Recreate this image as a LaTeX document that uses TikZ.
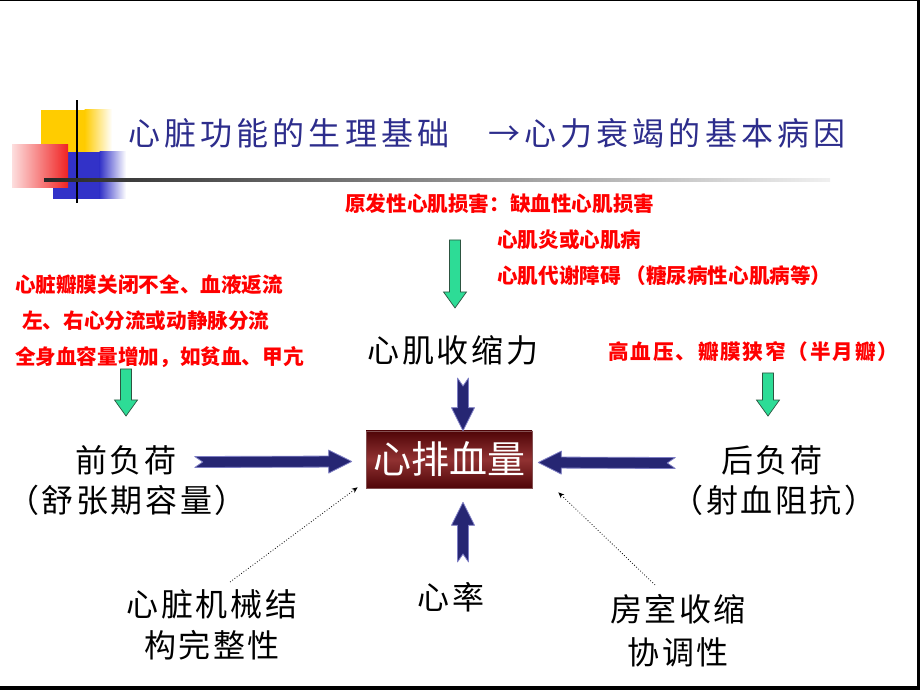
\documentclass[tikz,border=0pt]{standalone}
\usepackage{fontspec}
\usetikzlibrary{arrows.meta}
\newfontfamily\cjk[LetterSpace=8]{Noto Sans CJK SC}
\newfontfamily\cjktitle[LetterSpace=13]{Noto Sans CJK SC}
\newfontfamily\cjkplain{Noto Sans CJK SC}
\newfontfamily\cjkwide[LetterSpace=9]{Noto Sans CJK SC}
\definecolor{titleblue}{RGB}{45,45,140}
\definecolor{arrownavy}{RGB}{38,38,115}
\definecolor{arrowedge}{RGB}{125,125,195}
\definecolor{mint}{RGB}{45,220,150}
\definecolor{mintedge}{RGB}{45,85,65}
\definecolor{boxdark}{RGB}{80,5,8}
\definecolor{boxlight}{RGB}{145,50,50}
\definecolor{decoyellow}{RGB}{255,204,0}
\definecolor{decoblue}{RGB}{50,50,200}
\definecolor{decored}{RGB}{240,35,35}

\tikzset{
	lbl/.style={font=\cjk\fontsize{32}{41}\selectfont, inner sep=1pt, align=center},
	cause/.style={font=\cjkplain\bfseries\fontsize{20.6}{24}\selectfont, text=red, anchor=west, inner sep=0pt},
	heading/.style={font=\cjktitle\fontsize{32}{38}\selectfont, text=titleblue, anchor=west, inner sep=0pt},
	cobox/.style={font=\cjkplain\fontsize{38}{40}\selectfont, text=white, minimum width=166pt, minimum height=57pt,
		top color=boxdark, bottom color=boxdark, middle color=boxlight, draw=boxdark!70, line width=0.6pt},
	navyfat/.style={fill=arrownavy, draw=arrowedge, line width=0.8pt, line join=round},
	mintfat/.style={fill=mint, draw=mintedge, line width=0.7pt},
	dotarrow/.style={dotted, line width=0.8pt, -{Stealth[length=6pt,width=5pt]}}
}

% #1 style, #2 shaft half width, #3 head half width, #4 head length, #5 notch, #6 from, #7 to
\newcommand\fatarrow[7]{%
	\path (#6) coordinate (fa-s) (#7) coordinate (fa-e);
	\pgfpointdiff{\pgfpointanchor{fa-s}{center}}{\pgfpointanchor{fa-e}{center}}%
	\pgfgetlastxy{\fadx}{\fady}%
	\pgfmathsetmacro\falen{veclen(\fadx,\fady)}%
	\pgfmathsetmacro\faang{atan2(\fady,\fadx)}%
	\begin{scope}[shift={(fa-s)}, rotate=\faang]
		\filldraw[#1] (0,#2) -- (\falen-#4,#2) -- (\falen-#4,#3) -- (\falen,0)
			-- (\falen-#4,-#3) -- (\falen-#4,-#2) -- (0,-#2) -- (#5,0) -- cycle;
	\end{scope}}
\newcommand\navyarrow[2]{\fatarrow{navyfat}{5.5}{11.5}{23}{8}{#1}{#2}}
\newcommand\mintarrow[2]{\fatarrow{mintfat}{5.5}{11.5}{16}{0}{#1}{#2}}

\begin{document}
\begin{tikzpicture}[x=1pt, y=1pt]
	\useasboundingbox (0,0) rectangle (920,690);
	\fill[white] (0,0) rectangle (920,690);

	% title decoration
	\fill[decoyellow] (41,538) rectangle (85,580);
	\shade[left color=decoyellow, right color=white] (84.5,538) rectangle (112,580);
	\fill[decoblue] (53,491) rectangle (100,538);
	\shade[left color=decoblue, right color=white] (99.5,491) rectangle (126,538);
	\shade[left color=decored!15, right color=decored] (12,502) rectangle (68,545);
	\draw[line width=2.5pt] (77,487) -- (77,590);
	\shade[left color=black!85, right color=black!6] (44,508.5) rectangle (830,511.5);

	\node[heading] (head1) at (128,557) {心脏功能的生理基础};
	\node[heading] (head2) at (488,557) {→心力衰竭的基本病因};

	% causes
	\node[cause] (dmg1) at (345,486) {原发性心肌损害：缺血性心肌损害};
	\node[cause] (dmg2) at (497,450) {心肌炎或心肌病};
	\node[cause] (dmg3) at (497,414) {心肌代谢障碍 （糖尿病性心肌病等）};
	\node[cause] (vol1) at (15,405) {心脏瓣膜关闭不全、血液返流};
	\node[cause] (vol2) at (22,369) {左、右心分流或动静脉分流};
	\node[cause] (vol3) at (15,333) {全身血容量增加，如贫血、甲亢};
	\node[cause, font=\cjkwide\bfseries\fontsize{20.6}{24}\selectfont] (press) at (608,338) {高血压、瓣膜狭窄（半月瓣）};

	% factors
	\node[cobox] (co) at (449,230.5) {心排血量};
	\node[lbl] (contr) at (453,340) {心肌收缩力};
	\node[lbl] (pre) at (126,230) {前负荷};
	\node[lbl] (pre2) at (127,190) {（舒张期容量）};
	\node[lbl] (post) at (772,230) {后负荷};
	\node[lbl] (post2) at (774,190) {（射血阻抗）};
	\node[lbl] (rate) at (451,93) {心率};
	\node[lbl] (mech) at (212,65.5) {心脏机械结\\构完整性};
	\node[lbl, font=\cjk\fontsize{32}{43}\selectfont] (chamb) at (678,59.5) {房室收缩\\协调性};

	\coordinate (g1) at (455,450);
	\coordinate (g2) at (126,321);
	\coordinate (g3) at (768,317);
	\mintarrow{g1}{[xshift=2pt,yshift=26pt]contr.north}
	\mintarrow{g2}{[yshift=28pt]pre.north}
	\mintarrow{g3}{[xshift=-4pt,yshift=28pt]post.north}

	\navyarrow{[xshift=10pt,yshift=-12pt]contr.south}{[xshift=14pt]co.north}
	\navyarrow{[xshift=12pt,yshift=19pt]rate.north}{[xshift=14pt,yshift=-14pt]co.south}
	\navyarrow{[xshift=17pt,yshift=-2pt]pre.east}{[xshift=-14pt,yshift=-2pt]co.west}
	\navyarrow{[xshift=-45pt,yshift=-3pt]post.west}{[xshift=6pt,yshift=-3pt]co.east}

	\draw[dotarrow] ([xshift=18pt,yshift=6pt]mech.north) -- ([xshift=-8pt,yshift=1pt]co.south west);
	\draw[dotarrow] ([xshift=-23pt,yshift=8pt]chamb.north) -- ([xshift=26pt,yshift=-4pt]co.south east);

	% slide frame
	\draw[line width=1pt] (0,689.5) -- (920,689.5);
	\fill (917,0) rectangle (920,690);
	\fill (0,0) rectangle (920,4);
\end{tikzpicture}
\end{document}
